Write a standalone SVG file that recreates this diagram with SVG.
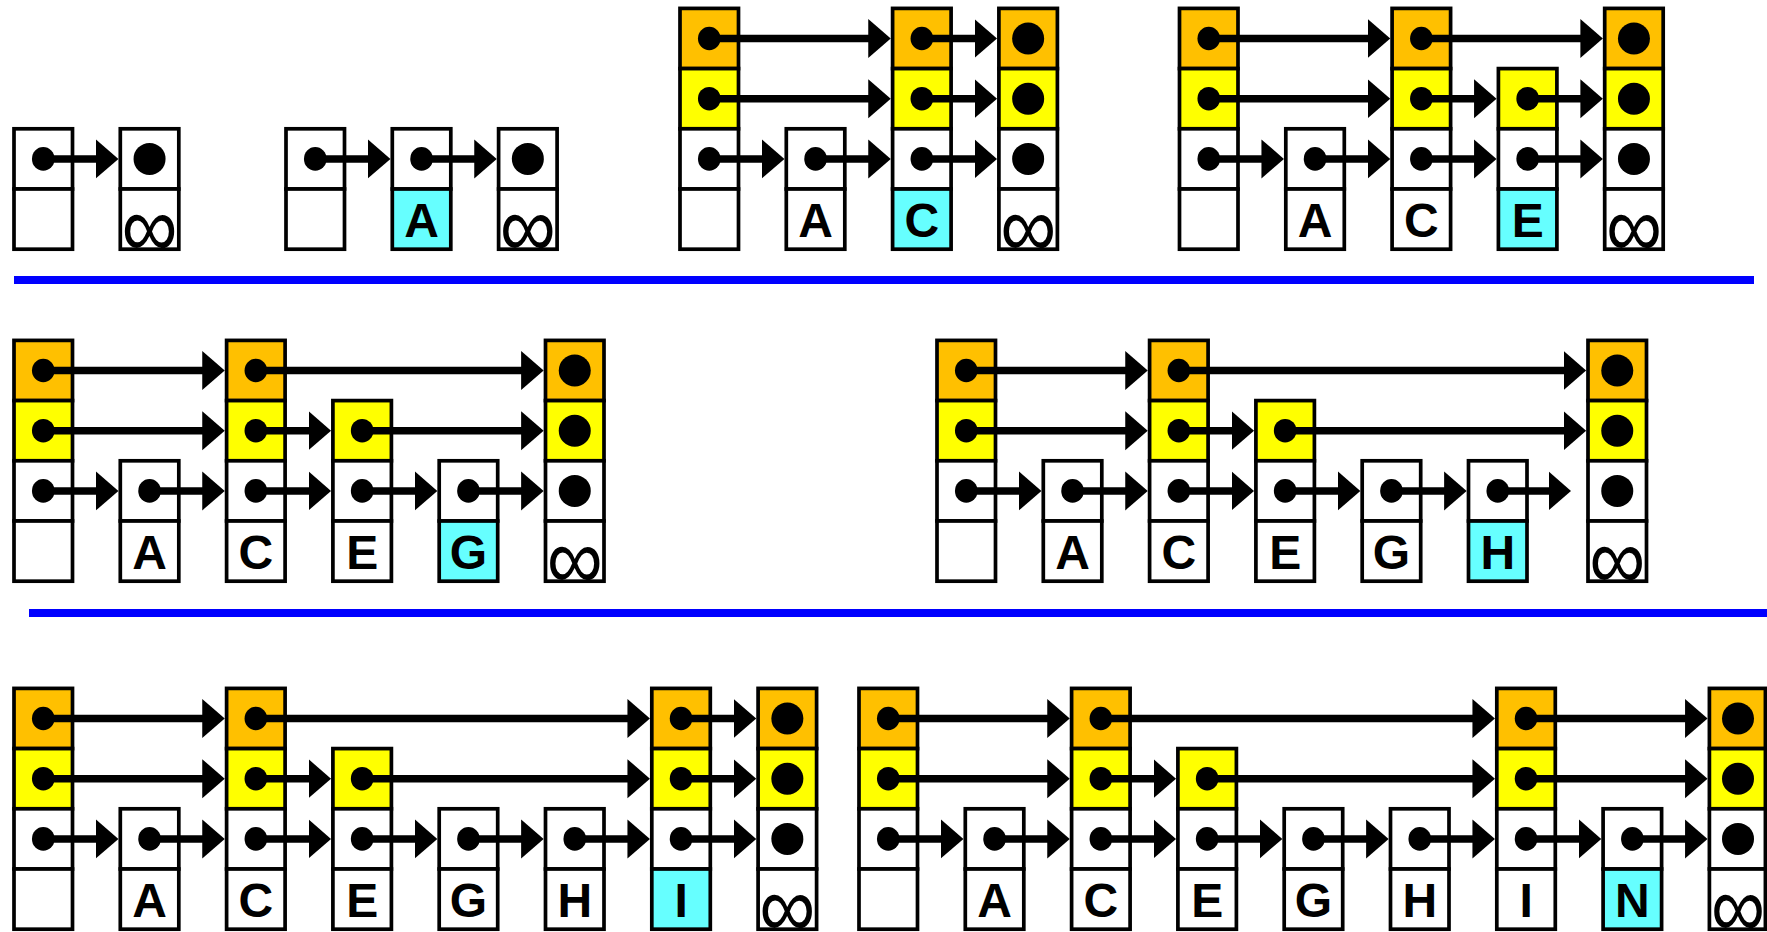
<svg xmlns="http://www.w3.org/2000/svg" width="1767" height="932" viewBox="0 0 1767 932">
<style>
.c{stroke:#000;stroke-width:3.7}
.o{fill:#FFC000}.y{fill:#FFFF00}.w{fill:#FFFFFF}.k{fill:#66FFFF}
.d{fill:#000}
.t{font-family:"Liberation Sans",Arial,sans-serif;font-weight:bold;font-size:48px;text-anchor:middle;fill:#000}
.i{font-family:"Liberation Sans",Arial,sans-serif;font-size:88px;text-anchor:middle;fill:#000}
#connectors line{stroke:#000;stroke-width:7.5;marker-end:url(#ah)}
.blue{stroke:#0000FF;stroke-width:8}
</style>
<defs>
<marker id="ah" markerUnits="userSpaceOnUse" markerWidth="24" markerHeight="40" viewBox="0 0 24 40" refX="2" refY="20" orient="auto"><path d="M0,0.5 L22.5,20 L0,39.5 z" fill="#000"/></marker>
</defs>
<rect x="0" y="0" width="1767" height="932" fill="#fff"/>

<!-- separators -->
<g id="separators">
<line class="blue" x1="14" y1="280" x2="1754" y2="280"/>
<line class="blue" x1="29" y1="613" x2="1767" y2="613"/>
</g>

<!-- ===== Diagram 1 ===== -->
<g id="d1-head"><rect class="c w" x="14" y="128.8" width="58.5" height="60.2"/><rect class="c w" x="14" y="189" width="58.5" height="60.2"/><ellipse class="d" cx="43.25" cy="158.9" rx="11.3" ry="11.8"/></g>
<g id="d1-inf"><rect class="c w" x="120.3" y="128.8" width="58.5" height="60.2"/><rect class="c w" x="120.3" y="189" width="58.5" height="60.2"/><circle class="d" cx="149.55" cy="158.9" r="16"/><text class="i" x="149.55" y="256.5" textLength="56" lengthAdjust="spacingAndGlyphs">∞</text></g>

<!-- ===== Diagram 2 ===== -->
<g id="d2-head"><rect class="c w" x="286" y="128.8" width="58.5" height="60.2"/><rect class="c w" x="286" y="189" width="58.5" height="60.2"/><ellipse class="d" cx="315.25" cy="158.9" rx="11.3" ry="11.8"/></g>
<g id="d2-A"><rect class="c w" x="392.3" y="128.8" width="58.5" height="60.2"/><rect class="c k" x="392.3" y="189" width="58.5" height="60.2"/><ellipse class="d" cx="421.55" cy="158.9" rx="11.3" ry="11.8"/><text class="t" x="421.55" y="236.6">A</text></g>
<g id="d2-inf"><rect class="c w" x="498.6" y="128.8" width="58.5" height="60.2"/><rect class="c w" x="498.6" y="189" width="58.5" height="60.2"/><circle class="d" cx="527.85" cy="158.9" r="16"/><text class="i" x="527.85" y="256.5" textLength="56" lengthAdjust="spacingAndGlyphs">∞</text></g>

<!-- ===== Diagram 3 ===== -->
<g id="d3-head"><rect class="c o" x="680" y="8.4" width="58.5" height="60.2"/><rect class="c y" x="680" y="68.6" width="58.5" height="60.2"/><rect class="c w" x="680" y="128.8" width="58.5" height="60.2"/><rect class="c w" x="680" y="189" width="58.5" height="60.2"/><ellipse class="d" cx="709.25" cy="38.5" rx="11.3" ry="11.8"/><ellipse class="d" cx="709.25" cy="98.7" rx="11.3" ry="11.8"/><ellipse class="d" cx="709.25" cy="158.9" rx="11.3" ry="11.8"/></g>
<g id="d3-A"><rect class="c w" x="786.3" y="128.8" width="58.5" height="60.2"/><rect class="c w" x="786.3" y="189" width="58.5" height="60.2"/><ellipse class="d" cx="815.55" cy="158.9" rx="11.3" ry="11.8"/><text class="t" x="815.55" y="236.6">A</text></g>
<g id="d3-C"><rect class="c o" x="892.6" y="8.4" width="58.5" height="60.2"/><rect class="c y" x="892.6" y="68.6" width="58.5" height="60.2"/><rect class="c w" x="892.6" y="128.8" width="58.5" height="60.2"/><rect class="c k" x="892.6" y="189" width="58.5" height="60.2"/><ellipse class="d" cx="921.85" cy="38.5" rx="11.3" ry="11.8"/><ellipse class="d" cx="921.85" cy="98.7" rx="11.3" ry="11.8"/><ellipse class="d" cx="921.85" cy="158.9" rx="11.3" ry="11.8"/><text class="t" x="921.85" y="236.6">C</text></g>
<g id="d3-inf"><rect class="c o" x="998.9" y="8.4" width="58.5" height="60.2"/><rect class="c y" x="998.9" y="68.6" width="58.5" height="60.2"/><rect class="c w" x="998.9" y="128.8" width="58.5" height="60.2"/><rect class="c w" x="998.9" y="189" width="58.5" height="60.2"/><circle class="d" cx="1028.15" cy="38.5" r="16"/><circle class="d" cx="1028.15" cy="98.7" r="16"/><circle class="d" cx="1028.15" cy="158.9" r="16"/><text class="i" x="1028.15" y="256.5" textLength="56" lengthAdjust="spacingAndGlyphs">∞</text></g>

<!-- ===== Diagram 4 ===== -->
<g id="d4-head"><rect class="c o" x="1179.5" y="8.4" width="58.5" height="60.2"/><rect class="c y" x="1179.5" y="68.6" width="58.5" height="60.2"/><rect class="c w" x="1179.5" y="128.8" width="58.5" height="60.2"/><rect class="c w" x="1179.5" y="189" width="58.5" height="60.2"/><ellipse class="d" cx="1208.75" cy="38.5" rx="11.3" ry="11.8"/><ellipse class="d" cx="1208.75" cy="98.7" rx="11.3" ry="11.8"/><ellipse class="d" cx="1208.75" cy="158.9" rx="11.3" ry="11.8"/></g>
<g id="d4-A"><rect class="c w" x="1285.8" y="128.8" width="58.5" height="60.2"/><rect class="c w" x="1285.8" y="189" width="58.5" height="60.2"/><ellipse class="d" cx="1315.05" cy="158.9" rx="11.3" ry="11.8"/><text class="t" x="1315.05" y="236.6">A</text></g>
<g id="d4-C"><rect class="c o" x="1392.1" y="8.4" width="58.5" height="60.2"/><rect class="c y" x="1392.1" y="68.6" width="58.5" height="60.2"/><rect class="c w" x="1392.1" y="128.8" width="58.5" height="60.2"/><rect class="c w" x="1392.1" y="189" width="58.5" height="60.2"/><ellipse class="d" cx="1421.35" cy="38.5" rx="11.3" ry="11.8"/><ellipse class="d" cx="1421.35" cy="98.7" rx="11.3" ry="11.8"/><ellipse class="d" cx="1421.35" cy="158.9" rx="11.3" ry="11.8"/><text class="t" x="1421.35" y="236.6">C</text></g>
<g id="d4-E"><rect class="c y" x="1498.4" y="68.6" width="58.5" height="60.2"/><rect class="c w" x="1498.4" y="128.8" width="58.5" height="60.2"/><rect class="c k" x="1498.4" y="189" width="58.5" height="60.2"/><ellipse class="d" cx="1527.65" cy="98.7" rx="11.3" ry="11.8"/><ellipse class="d" cx="1527.65" cy="158.9" rx="11.3" ry="11.8"/><text class="t" x="1527.65" y="236.6">E</text></g>
<g id="d4-inf"><rect class="c o" x="1604.7" y="8.4" width="58.5" height="60.2"/><rect class="c y" x="1604.7" y="68.6" width="58.5" height="60.2"/><rect class="c w" x="1604.7" y="128.8" width="58.5" height="60.2"/><rect class="c w" x="1604.7" y="189" width="58.5" height="60.2"/><circle class="d" cx="1633.95" cy="38.5" r="16"/><circle class="d" cx="1633.95" cy="98.7" r="16"/><circle class="d" cx="1633.95" cy="158.9" r="16"/><text class="i" x="1633.95" y="256.5" textLength="56" lengthAdjust="spacingAndGlyphs">∞</text></g>

<!-- ===== Diagram 5 ===== -->
<g id="d5-head"><rect class="c o" x="14" y="340.4" width="58.5" height="60.2"/><rect class="c y" x="14" y="400.6" width="58.5" height="60.2"/><rect class="c w" x="14" y="460.8" width="58.5" height="60.2"/><rect class="c w" x="14" y="521" width="58.5" height="60.2"/><ellipse class="d" cx="43.25" cy="370.5" rx="11.3" ry="11.8"/><ellipse class="d" cx="43.25" cy="430.7" rx="11.3" ry="11.8"/><ellipse class="d" cx="43.25" cy="490.9" rx="11.3" ry="11.8"/></g>
<g id="d5-A"><rect class="c w" x="120.3" y="460.8" width="58.5" height="60.2"/><rect class="c w" x="120.3" y="521" width="58.5" height="60.2"/><ellipse class="d" cx="149.55" cy="490.9" rx="11.3" ry="11.8"/><text class="t" x="149.55" y="568.6">A</text></g>
<g id="d5-C"><rect class="c o" x="226.6" y="340.4" width="58.5" height="60.2"/><rect class="c y" x="226.6" y="400.6" width="58.5" height="60.2"/><rect class="c w" x="226.6" y="460.8" width="58.5" height="60.2"/><rect class="c w" x="226.6" y="521" width="58.5" height="60.2"/><ellipse class="d" cx="255.85" cy="370.5" rx="11.3" ry="11.8"/><ellipse class="d" cx="255.85" cy="430.7" rx="11.3" ry="11.8"/><ellipse class="d" cx="255.85" cy="490.9" rx="11.3" ry="11.8"/><text class="t" x="255.85" y="568.6">C</text></g>
<g id="d5-E"><rect class="c y" x="332.9" y="400.6" width="58.5" height="60.2"/><rect class="c w" x="332.9" y="460.8" width="58.5" height="60.2"/><rect class="c w" x="332.9" y="521" width="58.5" height="60.2"/><ellipse class="d" cx="362.15" cy="430.7" rx="11.3" ry="11.8"/><ellipse class="d" cx="362.15" cy="490.9" rx="11.3" ry="11.8"/><text class="t" x="362.15" y="568.6">E</text></g>
<g id="d5-G"><rect class="c w" x="439.2" y="460.8" width="58.5" height="60.2"/><rect class="c k" x="439.2" y="521" width="58.5" height="60.2"/><ellipse class="d" cx="468.45" cy="490.9" rx="11.3" ry="11.8"/><text class="t" x="468.45" y="568.6">G</text></g>
<g id="d5-inf"><rect class="c o" x="545.5" y="340.4" width="58.5" height="60.2"/><rect class="c y" x="545.5" y="400.6" width="58.5" height="60.2"/><rect class="c w" x="545.5" y="460.8" width="58.5" height="60.2"/><rect class="c w" x="545.5" y="521" width="58.5" height="60.2"/><circle class="d" cx="574.75" cy="370.5" r="16"/><circle class="d" cx="574.75" cy="430.7" r="16"/><circle class="d" cx="574.75" cy="490.9" r="16"/><text class="i" x="574.75" y="588.5" textLength="56" lengthAdjust="spacingAndGlyphs">∞</text></g>

<!-- ===== Diagram 6 ===== -->
<g id="d6-head"><rect class="c o" x="937" y="340.4" width="58.5" height="60.2"/><rect class="c y" x="937" y="400.6" width="58.5" height="60.2"/><rect class="c w" x="937" y="460.8" width="58.5" height="60.2"/><rect class="c w" x="937" y="521" width="58.5" height="60.2"/><ellipse class="d" cx="966.25" cy="370.5" rx="11.3" ry="11.8"/><ellipse class="d" cx="966.25" cy="430.7" rx="11.3" ry="11.8"/><ellipse class="d" cx="966.25" cy="490.9" rx="11.3" ry="11.8"/></g>
<g id="d6-A"><rect class="c w" x="1043.3" y="460.8" width="58.5" height="60.2"/><rect class="c w" x="1043.3" y="521" width="58.5" height="60.2"/><ellipse class="d" cx="1072.55" cy="490.9" rx="11.3" ry="11.8"/><text class="t" x="1072.55" y="568.6">A</text></g>
<g id="d6-C"><rect class="c o" x="1149.6" y="340.4" width="58.5" height="60.2"/><rect class="c y" x="1149.6" y="400.6" width="58.5" height="60.2"/><rect class="c w" x="1149.6" y="460.8" width="58.5" height="60.2"/><rect class="c w" x="1149.6" y="521" width="58.5" height="60.2"/><ellipse class="d" cx="1178.85" cy="370.5" rx="11.3" ry="11.8"/><ellipse class="d" cx="1178.85" cy="430.7" rx="11.3" ry="11.8"/><ellipse class="d" cx="1178.85" cy="490.9" rx="11.3" ry="11.8"/><text class="t" x="1178.85" y="568.6">C</text></g>
<g id="d6-E"><rect class="c y" x="1255.9" y="400.6" width="58.5" height="60.2"/><rect class="c w" x="1255.9" y="460.8" width="58.5" height="60.2"/><rect class="c w" x="1255.9" y="521" width="58.5" height="60.2"/><ellipse class="d" cx="1285.15" cy="430.7" rx="11.3" ry="11.8"/><ellipse class="d" cx="1285.15" cy="490.9" rx="11.3" ry="11.8"/><text class="t" x="1285.15" y="568.6">E</text></g>
<g id="d6-G"><rect class="c w" x="1362.2" y="460.8" width="58.5" height="60.2"/><rect class="c w" x="1362.2" y="521" width="58.5" height="60.2"/><ellipse class="d" cx="1391.45" cy="490.9" rx="11.3" ry="11.8"/><text class="t" x="1391.45" y="568.6">G</text></g>
<g id="d6-H"><rect class="c w" x="1468.5" y="460.8" width="58.5" height="60.2"/><rect class="c k" x="1468.5" y="521" width="58.5" height="60.2"/><ellipse class="d" cx="1497.75" cy="490.9" rx="11.3" ry="11.8"/><text class="t" x="1497.75" y="568.6">H</text></g>
<g id="d6-inf"><rect class="c o" x="1588" y="340.4" width="58.5" height="60.2"/><rect class="c y" x="1588" y="400.6" width="58.5" height="60.2"/><rect class="c w" x="1588" y="460.8" width="58.5" height="60.2"/><rect class="c w" x="1588" y="521" width="58.5" height="60.2"/><circle class="d" cx="1617.25" cy="370.5" r="16"/><circle class="d" cx="1617.25" cy="430.7" r="16"/><circle class="d" cx="1617.25" cy="490.9" r="16"/><text class="i" x="1617.25" y="588.5" textLength="56" lengthAdjust="spacingAndGlyphs">∞</text></g>

<!-- ===== Diagram 7 ===== -->
<g id="d7-head"><rect class="c o" x="14" y="688.4" width="58.5" height="60.2"/><rect class="c y" x="14" y="748.6" width="58.5" height="60.2"/><rect class="c w" x="14" y="808.8" width="58.5" height="60.2"/><rect class="c w" x="14" y="869" width="58.5" height="60.2"/><ellipse class="d" cx="43.25" cy="718.5" rx="11.3" ry="11.8"/><ellipse class="d" cx="43.25" cy="778.7" rx="11.3" ry="11.8"/><ellipse class="d" cx="43.25" cy="838.9" rx="11.3" ry="11.8"/></g>
<g id="d7-A"><rect class="c w" x="120.3" y="808.8" width="58.5" height="60.2"/><rect class="c w" x="120.3" y="869" width="58.5" height="60.2"/><ellipse class="d" cx="149.55" cy="838.9" rx="11.3" ry="11.8"/><text class="t" x="149.55" y="916.6">A</text></g>
<g id="d7-C"><rect class="c o" x="226.6" y="688.4" width="58.5" height="60.2"/><rect class="c y" x="226.6" y="748.6" width="58.5" height="60.2"/><rect class="c w" x="226.6" y="808.8" width="58.5" height="60.2"/><rect class="c w" x="226.6" y="869" width="58.5" height="60.2"/><ellipse class="d" cx="255.85" cy="718.5" rx="11.3" ry="11.8"/><ellipse class="d" cx="255.85" cy="778.7" rx="11.3" ry="11.8"/><ellipse class="d" cx="255.85" cy="838.9" rx="11.3" ry="11.8"/><text class="t" x="255.85" y="916.6">C</text></g>
<g id="d7-E"><rect class="c y" x="332.9" y="748.6" width="58.5" height="60.2"/><rect class="c w" x="332.9" y="808.8" width="58.5" height="60.2"/><rect class="c w" x="332.9" y="869" width="58.5" height="60.2"/><ellipse class="d" cx="362.15" cy="778.7" rx="11.3" ry="11.8"/><ellipse class="d" cx="362.15" cy="838.9" rx="11.3" ry="11.8"/><text class="t" x="362.15" y="916.6">E</text></g>
<g id="d7-G"><rect class="c w" x="439.2" y="808.8" width="58.5" height="60.2"/><rect class="c w" x="439.2" y="869" width="58.5" height="60.2"/><ellipse class="d" cx="468.45" cy="838.9" rx="11.3" ry="11.8"/><text class="t" x="468.45" y="916.6">G</text></g>
<g id="d7-H"><rect class="c w" x="545.5" y="808.8" width="58.5" height="60.2"/><rect class="c w" x="545.5" y="869" width="58.5" height="60.2"/><ellipse class="d" cx="574.75" cy="838.9" rx="11.3" ry="11.8"/><text class="t" x="574.75" y="916.6">H</text></g>
<g id="d7-I"><rect class="c o" x="651.8" y="688.4" width="58.5" height="60.2"/><rect class="c y" x="651.8" y="748.6" width="58.5" height="60.2"/><rect class="c w" x="651.8" y="808.8" width="58.5" height="60.2"/><rect class="c k" x="651.8" y="869" width="58.5" height="60.2"/><ellipse class="d" cx="681.05" cy="718.5" rx="11.3" ry="11.8"/><ellipse class="d" cx="681.05" cy="778.7" rx="11.3" ry="11.8"/><ellipse class="d" cx="681.05" cy="838.9" rx="11.3" ry="11.8"/><text class="t" x="681.05" y="916.6">I</text></g>
<g id="d7-inf"><rect class="c o" x="758.1" y="688.4" width="58.5" height="60.2"/><rect class="c y" x="758.1" y="748.6" width="58.5" height="60.2"/><rect class="c w" x="758.1" y="808.8" width="58.5" height="60.2"/><rect class="c w" x="758.1" y="869" width="58.5" height="60.2"/><circle class="d" cx="787.35" cy="718.5" r="16"/><circle class="d" cx="787.35" cy="778.7" r="16"/><circle class="d" cx="787.35" cy="838.9" r="16"/><text class="i" x="787.35" y="936.5" textLength="56" lengthAdjust="spacingAndGlyphs">∞</text></g>

<!-- ===== Diagram 8 ===== -->
<g id="d8-head"><rect class="c o" x="859" y="688.4" width="58.5" height="60.2"/><rect class="c y" x="859" y="748.6" width="58.5" height="60.2"/><rect class="c w" x="859" y="808.8" width="58.5" height="60.2"/><rect class="c w" x="859" y="869" width="58.5" height="60.2"/><ellipse class="d" cx="888.25" cy="718.5" rx="11.3" ry="11.8"/><ellipse class="d" cx="888.25" cy="778.7" rx="11.3" ry="11.8"/><ellipse class="d" cx="888.25" cy="838.9" rx="11.3" ry="11.8"/></g>
<g id="d8-A"><rect class="c w" x="965.3" y="808.8" width="58.5" height="60.2"/><rect class="c w" x="965.3" y="869" width="58.5" height="60.2"/><ellipse class="d" cx="994.55" cy="838.9" rx="11.3" ry="11.8"/><text class="t" x="994.55" y="916.6">A</text></g>
<g id="d8-C"><rect class="c o" x="1071.6" y="688.4" width="58.5" height="60.2"/><rect class="c y" x="1071.6" y="748.6" width="58.5" height="60.2"/><rect class="c w" x="1071.6" y="808.8" width="58.5" height="60.2"/><rect class="c w" x="1071.6" y="869" width="58.5" height="60.2"/><ellipse class="d" cx="1100.85" cy="718.5" rx="11.3" ry="11.8"/><ellipse class="d" cx="1100.85" cy="778.7" rx="11.3" ry="11.8"/><ellipse class="d" cx="1100.85" cy="838.9" rx="11.3" ry="11.8"/><text class="t" x="1100.85" y="916.6">C</text></g>
<g id="d8-E"><rect class="c y" x="1177.9" y="748.6" width="58.5" height="60.2"/><rect class="c w" x="1177.9" y="808.8" width="58.5" height="60.2"/><rect class="c w" x="1177.9" y="869" width="58.5" height="60.2"/><ellipse class="d" cx="1207.15" cy="778.7" rx="11.3" ry="11.8"/><ellipse class="d" cx="1207.15" cy="838.9" rx="11.3" ry="11.8"/><text class="t" x="1207.15" y="916.6">E</text></g>
<g id="d8-G"><rect class="c w" x="1284.2" y="808.8" width="58.5" height="60.2"/><rect class="c w" x="1284.2" y="869" width="58.5" height="60.2"/><ellipse class="d" cx="1313.45" cy="838.9" rx="11.3" ry="11.8"/><text class="t" x="1313.45" y="916.6">G</text></g>
<g id="d8-H"><rect class="c w" x="1390.5" y="808.8" width="58.5" height="60.2"/><rect class="c w" x="1390.5" y="869" width="58.5" height="60.2"/><ellipse class="d" cx="1419.75" cy="838.9" rx="11.3" ry="11.8"/><text class="t" x="1419.75" y="916.6">H</text></g>
<g id="d8-I"><rect class="c o" x="1496.8" y="688.4" width="58.5" height="60.2"/><rect class="c y" x="1496.8" y="748.6" width="58.5" height="60.2"/><rect class="c w" x="1496.8" y="808.8" width="58.5" height="60.2"/><rect class="c w" x="1496.8" y="869" width="58.5" height="60.2"/><ellipse class="d" cx="1526.05" cy="718.5" rx="11.3" ry="11.8"/><ellipse class="d" cx="1526.05" cy="778.7" rx="11.3" ry="11.8"/><ellipse class="d" cx="1526.05" cy="838.9" rx="11.3" ry="11.8"/><text class="t" x="1526.05" y="916.6">I</text></g>
<g id="d8-N"><rect class="c w" x="1603.1" y="808.8" width="58.5" height="60.2"/><rect class="c k" x="1603.1" y="869" width="58.5" height="60.2"/><ellipse class="d" cx="1632.35" cy="838.9" rx="11.3" ry="11.8"/><text class="t" x="1632.35" y="916.6">N</text></g>
<g id="d8-inf"><rect class="c o" x="1709.4" y="688.4" width="56" height="60.2"/><rect class="c y" x="1709.4" y="748.6" width="56" height="60.2"/><rect class="c w" x="1709.4" y="808.8" width="56" height="60.2"/><rect class="c w" x="1709.4" y="869" width="56" height="60.2"/><circle class="d" cx="1738" cy="718.5" r="16"/><circle class="d" cx="1738" cy="778.7" r="16"/><circle class="d" cx="1738" cy="838.9" r="16"/><text class="i" x="1738" y="936.5" textLength="54" lengthAdjust="spacingAndGlyphs">∞</text></g>

<!-- ===== Connectors ===== -->
<g id="connectors">
<line x1="43.25" y1="158.9" x2="97.95" y2="158.9"/>
<line x1="315.25" y1="158.9" x2="369.95" y2="158.9"/>
<line x1="421.55" y1="158.9" x2="476.25" y2="158.9"/>
<line x1="709.25" y1="38.5" x2="870.25" y2="38.5"/>
<line x1="709.25" y1="98.7" x2="870.25" y2="98.7"/>
<line x1="709.25" y1="158.9" x2="763.95" y2="158.9"/>
<line x1="815.55" y1="158.9" x2="870.25" y2="158.9"/>
<line x1="921.85" y1="38.5" x2="976.55" y2="38.5"/>
<line x1="921.85" y1="98.7" x2="976.55" y2="98.7"/>
<line x1="921.85" y1="158.9" x2="976.55" y2="158.9"/>
<line x1="1208.75" y1="38.5" x2="1369.75" y2="38.5"/>
<line x1="1208.75" y1="98.7" x2="1369.75" y2="98.7"/>
<line x1="1208.75" y1="158.9" x2="1263.45" y2="158.9"/>
<line x1="1315.05" y1="158.9" x2="1369.75" y2="158.9"/>
<line x1="1421.35" y1="38.5" x2="1582.35" y2="38.5"/>
<line x1="1421.35" y1="98.7" x2="1476.05" y2="98.7"/>
<line x1="1421.35" y1="158.9" x2="1476.05" y2="158.9"/>
<line x1="1527.65" y1="98.7" x2="1582.35" y2="98.7"/>
<line x1="1527.65" y1="158.9" x2="1582.35" y2="158.9"/>
<line x1="43.25" y1="370.5" x2="204.25" y2="370.5"/>
<line x1="43.25" y1="430.7" x2="204.25" y2="430.7"/>
<line x1="43.25" y1="490.9" x2="97.95" y2="490.9"/>
<line x1="149.55" y1="490.9" x2="204.25" y2="490.9"/>
<line x1="255.85" y1="370.5" x2="523.15" y2="370.5"/>
<line x1="255.85" y1="430.7" x2="310.55" y2="430.7"/>
<line x1="255.85" y1="490.9" x2="310.55" y2="490.9"/>
<line x1="362.15" y1="430.7" x2="523.15" y2="430.7"/>
<line x1="362.15" y1="490.9" x2="416.85" y2="490.9"/>
<line x1="468.45" y1="490.9" x2="523.15" y2="490.9"/>
<line x1="966.25" y1="370.5" x2="1127.25" y2="370.5"/>
<line x1="966.25" y1="430.7" x2="1127.25" y2="430.7"/>
<line x1="966.25" y1="490.9" x2="1020.95" y2="490.9"/>
<line x1="1072.55" y1="490.9" x2="1127.25" y2="490.9"/>
<line x1="1178.85" y1="370.5" x2="1565.65" y2="370.5"/>
<line x1="1178.85" y1="430.7" x2="1233.55" y2="430.7"/>
<line x1="1178.85" y1="490.9" x2="1233.55" y2="490.9"/>
<line x1="1285.15" y1="430.7" x2="1565.65" y2="430.7"/>
<line x1="1285.15" y1="490.9" x2="1339.85" y2="490.9"/>
<line x1="1391.45" y1="490.9" x2="1446.15" y2="490.9"/>
<line x1="1497.75" y1="490.9" x2="1550.5" y2="490.9"/>
<line x1="43.25" y1="718.5" x2="204.25" y2="718.5"/>
<line x1="43.25" y1="778.7" x2="204.25" y2="778.7"/>
<line x1="43.25" y1="838.9" x2="97.95" y2="838.9"/>
<line x1="149.55" y1="838.9" x2="204.25" y2="838.9"/>
<line x1="255.85" y1="718.5" x2="629.45" y2="718.5"/>
<line x1="255.85" y1="778.7" x2="310.55" y2="778.7"/>
<line x1="255.85" y1="838.9" x2="310.55" y2="838.9"/>
<line x1="362.15" y1="778.7" x2="629.45" y2="778.7"/>
<line x1="362.15" y1="838.9" x2="416.85" y2="838.9"/>
<line x1="468.45" y1="838.9" x2="523.15" y2="838.9"/>
<line x1="574.75" y1="838.9" x2="629.45" y2="838.9"/>
<line x1="681.05" y1="718.5" x2="735.75" y2="718.5"/>
<line x1="681.05" y1="778.7" x2="735.75" y2="778.7"/>
<line x1="681.05" y1="838.9" x2="735.75" y2="838.9"/>
<line x1="888.25" y1="718.5" x2="1049.25" y2="718.5"/>
<line x1="888.25" y1="778.7" x2="1049.25" y2="778.7"/>
<line x1="888.25" y1="838.9" x2="942.95" y2="838.9"/>
<line x1="994.55" y1="838.9" x2="1049.25" y2="838.9"/>
<line x1="1100.85" y1="718.5" x2="1474.45" y2="718.5"/>
<line x1="1100.85" y1="778.7" x2="1155.55" y2="778.7"/>
<line x1="1100.85" y1="838.9" x2="1155.55" y2="838.9"/>
<line x1="1207.15" y1="778.7" x2="1474.45" y2="778.7"/>
<line x1="1207.15" y1="838.9" x2="1261.85" y2="838.9"/>
<line x1="1313.45" y1="838.9" x2="1368.15" y2="838.9"/>
<line x1="1419.75" y1="838.9" x2="1474.45" y2="838.9"/>
<line x1="1526.05" y1="718.5" x2="1687.05" y2="718.5"/>
<line x1="1526.05" y1="778.7" x2="1687.05" y2="778.7"/>
<line x1="1526.05" y1="838.9" x2="1580.75" y2="838.9"/>
<line x1="1632.35" y1="838.9" x2="1687.05" y2="838.9"/>
</g>
</svg>
